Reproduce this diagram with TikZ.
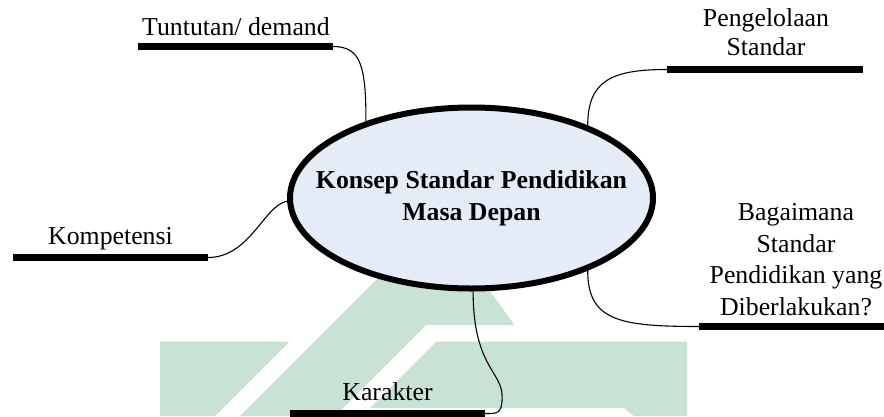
\documentclass[tikz,border=0pt]{standalone}
\usepackage{fontspec}
\setmainfont{Liberation Serif}
\usetikzlibrary{shapes.geometric}
\definecolor{wmgreen}{RGB}{200,227,211}
\definecolor{bubble}{RGB}{229,236,247}
\tikzset{
  bar/.style={line width=7pt, line cap=butt},
  link/.style={line width=1.1pt},
  lbl/.style={font=\fontsize{25.8}{29}\selectfont, inner sep=0pt, align=center},
  hub/.style={ellipse, draw, line width=6pt, fill=bubble,
    minimum width=363pt, minimum height=181pt, inner xsep=-30pt, inner ysep=0pt,
    align=center, font=\bfseries\fontsize{25.8}{32}\selectfont},
}
\begin{document}
\begin{tikzpicture}[x=1pt,y=-1pt]
\useasboundingbox (0,0) rectangle (884,416);

% pale green emblem in the background
\fill[wmgreen] (160,341.5) -- (289.5,341.5) -- (215,416) -- (160,416) -- cycle;
\fill[wmgreen] (437.6,218.4) -- (514.4,325) -- (426,325) -- (335,416) -- (240,416) -- cycle;
\fill[wmgreen] (436.5,341.5) -- (687,341.5) -- (687,416) -- (634,416) -- (624,408) -- (370,408) -- cycle;

% central concept
\node[hub] (c) at (471.5,198) {Konsep Standar Pendidikan\\Masa Depan};

% branch underlines
\coordinate (tu-l) at (138,46.5);  \coordinate (tu-r) at (333,46.5);
\coordinate (pe-l) at (667,69.5);  \coordinate (pe-r) at (863,69.5);
\coordinate (ba-l) at (699,326.5); \coordinate (ba-r) at (884,326.5);
\coordinate (ko-l) at (13,257.5);  \coordinate (ko-r) at (208,257.5);
\coordinate (ka-l) at (290,413.5); \coordinate (ka-r) at (485,413.5);

\draw[bar] (tu-l) -- (tu-r);
\draw[bar] (pe-l) -- (pe-r);
\draw[bar] (ba-l) -- (ba-r);
\draw[bar] (ko-l) -- (ko-r);
\draw[bar] (ka-l) -- (ka-r);

% branch labels
\node[lbl, anchor=base] (tu-t) at (236,35) {Tuntutan/ demand};
\node[lbl, anchor=south] (pe-t) at (766,56) {Pengelolaan\\Standar};
\node[lbl, anchor=south, font=\fontsize{25.8}{31.5}\selectfont] (ba-t) at (796,316)
  {Bagaimana\\Standar\\Pendidikan yang\\Diberlakukan?};
\node[lbl, anchor=base] (ko-t) at (110.5,244) {Kompetensi};
\node[lbl, anchor=base] (ka-t) at (387.5,400) {Karakter};

% connectors from the centre to each branch
\draw[link] (c.144.5) .. controls +(0,-55) and +(28,0) .. (tu-r);
\draw[link] (c.32) .. controls +(0,-45) and +(-55,0) .. (pe-l);
\draw[link] (c.-32) .. controls +(0,50) and +(-80,0) .. (ba-l);
\draw[link] (c.181) .. controls +(-23,4) and +(42,0) .. (ko-r);
\draw[link] (c.-89) .. controls +(0,75) and +(0,-25) .. ++(29,105)
  .. controls +(0,18) and +(12,0) .. (ka-r);
\end{tikzpicture}
\end{document}
